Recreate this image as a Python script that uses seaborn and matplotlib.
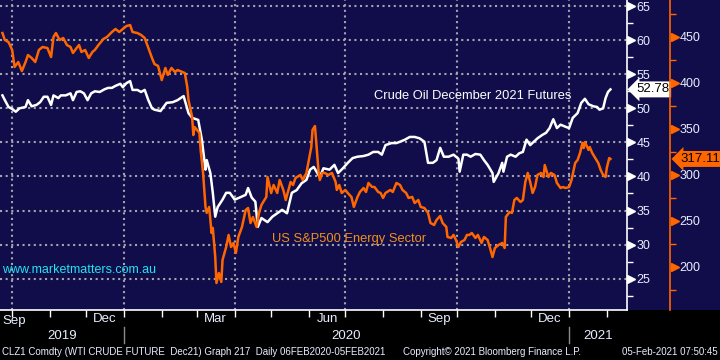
import pandas as pd
import matplotlib
matplotlib.use("Agg")
import matplotlib.pyplot as plt
import matplotlib.dates as mdates
from matplotlib.ticker import MultipleLocator, FixedLocator
from matplotlib.patches import Rectangle
import seaborn as sns

# ---- data ----
base_date = "2020-01-01"   # day offsets below are counted from this date

crude_days = [-100, -98, -95, -92, -89, -86, -81, -79, -76, -72,
              -69, -66, -63, -60, -58, -54, -52, -48, -44, -42,
              -39, -36, -33, -30, -27, -24, -20, -16, -13, -10,
              -7, -3, -1, 2, 5, 7, 11, 14, 17, 20,
              23, 25, 30, 35, 40, 44, 49, 53, 56, 61,
              64, 67, 68, 71, 73, 75, 77, 81, 84, 87,
              91, 95, 100, 102, 105, 108, 110, 113, 118, 122,
              126, 130, 134, 138, 142, 146, 150, 153, 156, 161,
              164, 169, 173, 176, 180, 184, 188, 192, 197, 201,
              205, 209, 212, 215, 220, 224, 227, 231, 235, 239,
              243, 247, 250, 254, 257, 260, 263, 267, 271, 275,
              276, 279, 282, 285, 289, 293, 296, 299, 303, 304,
              308, 311, 312, 315, 318, 322, 325, 328, 331, 334,
              337, 340, 344, 347, 350, 353, 356, 359, 363, 366,
              369, 373, 376, 379, 382, 386, 389, 391, 394, 396,
              398, 400]
crude_val = [51.9, 51.2, 50.2, 49.9, 49.5, 50.0, 50.2, 51.2, 50.3, 50.5,
             50.9, 51.7, 51.7, 50.5, 51.9, 51.5, 51.9, 51.9, 52.2, 51.2,
             52.4, 52.5, 52.2, 51.2, 52.2, 52.5, 52.4, 52.8, 53.0, 53.0,
             53.3, 53.6, 53.1, 53.7, 54.0, 52.7, 52.7, 52.4, 52.7, 51.2,
             50.0, 49.8, 49.6, 50.8, 50.9, 51.2, 51.8, 49.3, 48.6, 48.3,
             45.4, 41.0, 42.4, 40.5, 37.6, 34.1, 35.5, 36.6, 37.6, 37.6,
             36.6, 36.9, 37.3, 38.3, 36.9, 36.3, 32.6, 33.9, 33.3, 34.1,
             34.6, 35.1, 34.6, 37.6, 38.0, 39.0, 39.5, 41.0, 41.4, 39.9,
             41.2, 41.0, 41.7, 40.5, 41.2, 42.0, 42.7, 42.9, 43.0, 43.2,
             43.6, 43.6, 43.2, 44.6, 44.9, 44.9, 45.1, 45.4, 45.8, 45.8,
             45.6, 45.1, 42.0, 42.0, 42.4, 44.2, 42.9, 42.9, 43.2, 42.6,
             40.7, 43.2, 43.2, 42.9, 43.3, 43.2, 42.4, 41.7, 40.5, 39.2,
             40.5, 42.0, 40.7, 42.9, 43.2, 42.9, 43.4, 43.6, 45.4, 44.6,
             45.1, 45.6, 46.1, 46.4, 47.1, 48.4, 47.1, 47.6, 47.3, 47.1,
             48.6, 49.3, 50.8, 51.4, 50.6, 50.3, 50.2, 49.8, 50.0, 51.5,
             52.4, 52.78]

energy_days = [-100, -98, -95, -92, -90, -87, -84, -81, -79, -76,
               -73, -70, -67, -63, -60, -58, -56, -53, -50, -47,
               -44, -42, -39, -37, -35, -32, -29, -26, -24, -21,
               -17, -14, -10, -7, -4, -1, 2, 5, 7, 11,
               14, 17, 20, 23, 25, 28, 31, 34, 36, 39,
               42, 44, 48, 50, 52, 53, 56, 57, 58, 60,
               62, 63, 65, 67, 68, 70, 72, 73, 75, 76,
               78, 80, 81, 84, 86, 88, 90, 92, 94, 97,
               100, 102, 104, 106, 109, 111, 113, 117, 118, 121,
               123, 126, 128, 131, 133, 137, 139, 141, 145, 147,
               150, 152, 154, 155, 157, 160, 161, 163, 165, 168,
               171, 174, 175, 177, 179, 182, 184, 187, 189, 192,
               194, 197, 199, 201, 204, 206, 209, 211, 213, 215,
               219, 221, 224, 227, 229, 232, 234, 237, 239, 242,
               244, 247, 250, 252, 255, 257, 260, 262, 265, 266,
               269, 271, 273, 275, 277, 280, 282, 284, 286, 289,
               291, 294, 296, 299, 301, 303, 305, 308, 311, 313,
               314, 317, 319, 321, 323, 326, 328, 330, 332, 334,
               336, 338, 340, 343, 345, 346, 349, 351, 354, 356,
               359, 361, 363, 366, 368, 371, 373, 375, 377, 378,
               379, 382, 383, 385, 387, 390, 392, 394, 396, 397,
               399, 400]
energy_val = [454.0, 446.4, 444.2, 435.6, 417.1, 422.5, 412.7, 422.5, 430.1, 426.9,
              422.5, 435.6, 438.8, 437.7, 427.9, 449.7, 454.0, 446.4, 448.6, 441.0,
              438.8, 432.3, 437.7, 441.0, 433.4, 435.6, 426.9, 433.4, 435.6, 441.0,
              447.5, 449.7, 455.1, 458.4, 455.1, 458.4, 461.6, 462.7, 455.1, 454.0,
              451.9, 448.6, 437.7, 426.9, 420.3, 418.2, 402.9, 416.0, 408.4, 416.0,
              411.6, 413.8, 411.6, 410.5, 395.3, 381.2, 362.7, 343.1, 351.9, 348.6,
              345.3, 326.9, 301.9, 264.9, 258.4, 264.9, 236.6, 242.1, 210.5, 182.3,
              193.1, 183.4, 207.3, 221.4, 234.5, 221.4, 225.8, 214.9, 232.3, 243.2,
              261.6, 263.8, 247.5, 254.0, 243.2, 258.4, 267.1, 275.8, 297.5, 280.1,
              288.8, 280.1, 294.2, 283.4, 272.5, 292.1, 288.8, 296.4, 299.7, 294.2,
              301.9, 316.0, 330.1, 348.6, 352.9, 302.9, 294.2, 301.9, 301.9, 299.7,
              301.9, 292.1, 283.4, 288.8, 280.1, 283.4, 280.1, 275.8, 264.9, 275.8,
              281.2, 285.5, 281.2, 291.0, 286.6, 286.6, 281.2, 280.1, 274.7, 280.1,
              283.4, 281.2, 291.0, 288.8, 283.4, 280.1, 274.7, 275.8, 269.2, 272.5,
              264.9, 263.8, 258.4, 247.5, 245.3, 250.8, 255.1, 247.5, 243.2, 232.3,
              231.2, 234.5, 229.0, 221.4, 226.8, 229.0, 234.5, 234.5, 236.6, 231.2,
              234.5, 225.8, 232.3, 229.0, 220.3, 210.5, 220.3, 223.6, 225.8, 220.3,
              254.0, 259.4, 258.4, 272.5, 274.7, 270.3, 272.5, 292.1, 301.9, 292.1,
              280.1, 286.6, 299.7, 301.9, 297.5, 310.5, 297.5, 301.9, 299.7, 291.0,
              285.5, 286.6, 285.5, 286.6, 294.2, 312.7, 316.0, 323.6, 334.4, 329.0,
              335.5, 326.9, 330.1, 323.6, 319.2, 312.7, 305.1, 299.7, 297.5, 307.3,
              318.1, 317.11]

crude_ticks = [25, 30, 35, 40, 45, 50, 55, 60, 65]
energy_ticks = [200, 250, 300, 350, 400, 450]
month_labels = ["2019-12-16", "2020-03-16", "2020-06-16", "2020-09-16", "2020-12-16"]
grid_dates = ["2019-10-01", "2020-01-01", "2020-04-01", "2020-07-01", "2020-10-01", "2021-01-01"]
year_starts = ["2019-01-01", "2020-01-01", "2021-01-01", "2022-01-01"]
years = ["2019", "2020", "2021"]
x_range = ["2019-09-21", "2021-02-17 15:00"]
crude_range = [20.4, 65.9]
energy_range = [152.9, 489.9]

crude_label = "Crude Oil December 2021 Futures"
energy_label = "US S&P500 Energy Sector"
site = "www.marketmatters.com.au"
footer_left = "CLZ1 Comdty (WTI CRUDE FUTURE  Dec21) Graph 217  Daily 06FEB2020-05FEB2021"
footer_mid = "Copyright\u00a9 2021 Bloomberg Finance L.P."
footer_right = "05-Feb-2021 07:50:45"

# ---- style ----
NAVY = "#100d4a"
GRID = "#a4a4ac"
ORANGE = "#ff6600"
AMBER = "#f0901e"
CYAN = "#22e4f2"
TXT = "#e8eeff"

plt.rcParams["font.family"] = ["Liberation Sans", "DejaVu Sans"]

base = pd.Timestamp(base_date)
crude_dates = base + pd.to_timedelta(crude_days, unit="D")
energy_dates = base + pd.to_timedelta(energy_days, unit="D")

fig = plt.figure(figsize=(7.2, 3.6), dpi=100, facecolor="black")
# navy panel behind plot + axis area
fig.patches.append(Rectangle((0, 50 / 360), 1, 310 / 360, transform=fig.transFigure,
                             facecolor=NAVY, edgecolor="none", zorder=-5))

ax = fig.add_axes([0, 50 / 360, 627 / 720, 310 / 360])
ax.patch.set_visible(False)
ax2 = ax.twinx()
ax2.patch.set_visible(False)

sns.lineplot(x=crude_dates, y=crude_val, ax=ax, color="white", lw=1.8)
sns.lineplot(x=energy_dates, y=energy_val, ax=ax2, color=ORANGE, lw=1.8)

ax.set_xlim(pd.Timestamp(x_range[0]), pd.Timestamp(x_range[1]))
ax.set_ylim(*crude_range)
ax2.set_ylim(*energy_range)
for a in (ax, ax2):
    a.set_xlabel("")
    a.set_ylabel("")

# spines
for s in ("left", "top"):
    ax.spines[s].set_visible(False)
ax.spines["right"].set_color("white")
ax.spines["bottom"].set_color("white")
ax.spines["right"].set_linewidth(1.2)
ax.spines["bottom"].set_linewidth(1.2)
for s in ("left", "top", "bottom"):
    ax2.spines[s].set_visible(False)
ax2.spines["right"].set_position(("outward", 43 * 0.72))
ax2.spines["right"].set_color(ORANGE)
ax2.spines["right"].set_linewidth(1.2)

# crude axis (right, white)
ax.yaxis.tick_right()
ax.set_yticks(crude_ticks)
ax.yaxis.set_minor_locator(MultipleLocator(2.5))
ax.tick_params(axis="y", which="major", length=0, pad=7, labelsize=9, labelcolor=TXT)
ax.tick_params(axis="y", which="minor", length=4, width=1, color="white")
ax.plot([1.0065] * len(crude_ticks), crude_ticks, ls="", marker=">", ms=5.5, color="white",
        transform=ax.get_yaxis_transform(), clip_on=False)

# energy axis (outer right, orange)
ax2.set_yticks(energy_ticks)
ax2.yaxis.set_minor_locator(MultipleLocator(25))
ax2.tick_params(axis="y", which="major", length=0, pad=7, labelsize=9, labelcolor=TXT)
ax2.tick_params(axis="y", which="minor", length=4, width=1, color=ORANGE)
ax2.plot([1 + 48 / 627] * len(energy_ticks), energy_ticks, ls="", marker=">", ms=5.5, color=ORANGE,
         transform=ax2.get_yaxis_transform(), clip_on=False)

# x axis: tick marks at month starts, month names mid-month
ax.xaxis.set_major_locator(mdates.MonthLocator())
ax.xaxis.set_minor_locator(FixedLocator(mdates.date2num(pd.to_datetime(month_labels))))
ax.xaxis.set_minor_formatter(mdates.DateFormatter("%b"))
ax.tick_params(axis="x", which="major", length=5, width=1, color="white", labelbottom=False)
ax.tick_params(axis="x", which="minor", length=0, pad=2.5, labelsize=9.5, labelcolor=TXT)
ax.text(0.004, -10.7 / 310, crude_dates[0].strftime("%b"), transform=ax.transAxes,
        ha="left", va="center", fontsize=9.5, color=TXT)

# years and separators
xt = ax.get_xaxis_transform()
x0, x1 = ax.get_xlim()
ys = mdates.date2num(pd.to_datetime(year_starts))
for i, yr in enumerate(years):
    lo, hi = max(x0, ys[i]), min(x1, ys[i + 1])
    ax.text((lo + hi) / 2, -26 / 310, yr, transform=xt, ha="center", va="center",
            fontsize=9.5, color=TXT)
for d in ys[1:3]:
    ax.plot([d, d], [-17 / 310, -33 / 310], transform=xt, color="#8a8a8a", lw=1, clip_on=False)

# dotted grid
dots = (0, (1, 1.7))
ax.grid(axis="y", which="major", color=GRID, ls=dots, lw=1.5)
for d in grid_dates:
    ax.axvline(pd.Timestamp(d), color=GRID, ls=dots, lw=1.5, zorder=0)
ax.set_axisbelow(True)

# last value tags
ax.annotate(f"{crude_val[-1]:.2f}", xy=(1, crude_val[-1]), xycoords=ax.get_yaxis_transform(),
            xytext=(9 * 0.72, 0), textcoords="offset points", ha="left", va="center",
            fontsize=9.5, color="black", annotation_clip=False,
            bbox=dict(boxstyle="larrow,pad=0.15", fc="white", ec="none"))
ax2.annotate(f"{energy_val[-1]:.2f}", xy=(1, energy_val[-1]), xycoords=ax2.get_yaxis_transform(),
             xytext=(53 * 0.72, 0), textcoords="offset points", ha="left", va="center",
             fontsize=9.5, color="black", annotation_clip=False,
             bbox=dict(boxstyle="larrow,pad=0.15", fc=ORANGE, ec="none"))

# in-chart labels
ax.text(374 / 627, 1 - 96 / 310, crude_label, transform=ax.transAxes, ha="left", va="center",
        fontsize=9.3, color="white")
ax.text(272 / 627, 1 - 239 / 310, energy_label, transform=ax.transAxes, ha="left", va="center",
        fontsize=9.3, color=AMBER)
ax.text(2 / 627, 1 - 270 / 310, site, transform=ax.transAxes, ha="left", va="center",
        fontsize=9, color=CYAN)

# footer
fig.text(2 / 720, 8 / 360, footer_left, ha="left", va="center", fontsize=7, color=TXT)
fig.text(403 / 720, 8 / 360, footer_mid, ha="left", va="center", fontsize=7, color=TXT)
fig.text(718 / 720, 8 / 360, footer_right, ha="right", va="center", fontsize=7, color=TXT)

fig.savefig("out.png", dpi=100, facecolor=fig.get_facecolor())
